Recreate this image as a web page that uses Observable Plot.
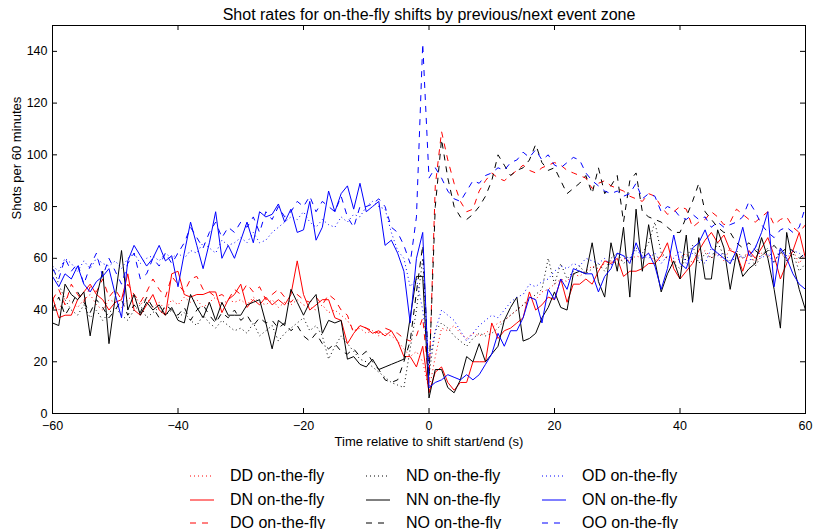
<!DOCTYPE html>
<html><head><meta charset="utf-8">
<script src="https://cdn.jsdelivr.net/npm/d3@7"></script>
<script src="https://cdn.jsdelivr.net/npm/@observablehq/plot@0.6"></script>
<style>
body{margin:0;background:#fff;font-family:"Liberation Sans",Arial,sans-serif;}
#wrap{position:relative;width:814px;height:529px;overflow:hidden;background:#fff}
#chart svg{display:block}
.item{position:absolute;height:21px;width:150px;font-size:16px;color:#000;white-space:nowrap}
.item .sample{position:absolute;left:0;top:0;width:24px;height:21px}
.item .sample svg{display:block}
.item span{position:absolute;left:40px;top:50%;transform:translateY(-50%);line-height:1}
</style></head><body>
<div id="wrap"><div id="chart"></div></div>
<script>
// time (s) relative to shift start/end
const seconds = d3.range(-60, 61);
const xTicks = [-60, -40, -20, 0, 20, 40, 60];
const yTicks = [0, 20, 40, 60, 80, 100, 120, 140];

const DD = [
42,40,45,43,41,44,46,42,40,44,
43,41,44,46,42,45,41,43,40,44,
42,45,43,44,41,43,45,42,44,43,
44,42,45,43,42,44,41,43,42,44,
42,41,40,42,39,40,38,36,32,33,
31,32,30,31,30,28,25,22,24,20,
9,22,33,32,34,31,29,31,30,31,
33,35,36,38,40,42,45,44,47,48,
50,52,51,54,53,55,57,56,58,59,
58,60,59,61,60,62,59,61,60,58,
60,62,58,61,63,60,62,59,64,61,
60,63,58,62,61,59,62,60,63,58,62];
const DN = [
45,37,38,38,44,47,50,46,44,40,
43,44,54,40,38,42,46,40,38,54,
55,46,45,46,46,47,47,39,44,46,
50,41,44,42,45,42,44,42,46,59,
46,40,42,44,44,37,36,27,31,34,
33,31,32,30,32,28,22,22,18,26,
8,16,18,12,9,12,12,20,20,20,
35,29,32,33,35,37,47,40,42,45,
44,52,43,50,50,52,50,55,59,58,
60,53,55,55,56,58,58,61,66,56,
52,55,58,63,67,70,66,69,63,62,
55,63,60,64,68,61,52,58,63,70,60];
const DO = [
44,48,42,50,46,43,49,47,52,45,
48,44,50,46,43,47,52,48,45,53,
50,47,52,53,48,47,45,46,44,48,
46,50,47,49,44,46,48,45,43,46,
44,43,45,42,46,44,40,38,31,34,
33,32,31,33,32,31,29,28,30,37,
12,88,109,98,89,82,78,79,86,90,
93,91,90,92,94,96,94,93,95,96,
97,96,94,93,92,91,87,89,90,88,
87,86,84,83,82,85,84,80,77,78,
80,79,72,74,75,78,76,73,74,79,
77,75,74,76,78,73,75,76,72,70,73];
const ND = [
57,50,44,40,38,42,37,40,36,39,
41,38,36,40,42,37,39,41,38,40,
37,39,36,34,38,35,33,36,34,32,
33,31,35,30,32,34,28,31,33,35,
37,32,34,30,21,26,30,27,24,21,
20,18,16,14,12,11,10,25,40,60,
15,32,35,33,30,28,26,29,31,30,
31,33,36,38,40,42,44,46,48,60,
50,58,52,55,57,54,56,58,55,60,
62,58,60,64,62,66,74,62,60,58,
56,60,65,58,62,60,66,61,58,63,
60,62,57,61,64,58,63,59,62,55,58];
const NN = [
35,34,50,46,44,47,30,45,55,27,
45,63,40,46,38,43,40,42,38,41,
36,35,46,41,37,43,36,43,38,38,
38,42,43,44,35,25,36,34,48,43,
38,43,46,31,36,35,36,21,22,19,
18,21,17,18,19,20,21,37,53,53,
6,17,17,10,8,13,22,20,27,20,
23,26,36,41,45,28,29,31,37,41,
47,41,40,54,55,54,66,51,45,66,
55,72,45,79,55,73,59,47,54,59,
52,69,43,68,52,52,71,64,48,62,
53,56,58,68,60,48,33,70,58,48,40];
const NO = [
40,45,38,42,47,43,39,44,41,37,
40,44,38,42,39,45,41,37,42,40,
38,41,36,40,42,38,35,39,37,40,
36,38,34,37,35,36,33,35,32,34,
30,28,31,27,25,27,24,23,25,22,
24,20,17,13,12,13,20,28,47,65,
14,80,106,91,80,76,75,77,80,84,
90,100,96,92,94,95,98,104,97,94,
95,90,85,87,89,92,85,95,85,88,
92,74,90,93,78,76,75,74,72,70,
70,76,82,89,78,75,72,70,70,66,
64,66,63,61,63,65,62,64,63,60,62];
const OD = [
57,55,60,58,55,59,56,60,58,57,
59,56,60,62,58,60,61,59,62,60,
62,60,63,62,66,64,62,67,65,66,
68,66,70,66,67,70,72,74,76,75,
78,74,72,75,73,72,76,74,77,76,
80,82,80,79,70,63,60,49,52,40,
20,32,40,38,36,32,28,31,34,36,
38,37,40,43,45,46,50,49,51,52,
55,57,56,58,57,60,59,58,60,57,
62,61,60,63,61,60,62,58,61,60,
63,58,62,60,58,64,61,62,59,60,
61,58,65,60,62,58,64,61,63,62,60];
const ON = [
53,49,54,52,57,50,47,51,53,56,
46,37,59,65,61,57,60,65,59,61,
49,62,74,65,56,66,78,60,65,60,
67,74,66,78,76,77,81,74,79,70,
71,82,67,72,86,78,85,88,79,89,
78,80,82,65,67,62,55,35,60,70,
10,12,13,15,14,13,15,13,15,19,
23,31,26,32,32,37,45,44,35,48,
44,52,48,56,55,54,54,47,53,56,
62,61,58,66,60,62,57,48,56,69,
58,56,64,66,71,64,62,60,58,63,
72,61,64,70,78,49,64,60,54,50,48];
const OO = [
56,52,60,55,58,50,57,62,53,60,
55,50,58,62,52,54,60,57,62,58,
62,66,72,68,64,70,74,68,72,70,
74,72,76,70,78,75,80,76,78,82,
80,84,78,82,80,78,84,76,72,80,
80,81,83,80,72,70,65,58,76,143,
91,95,91,86,83,82,86,90,89,92,
93,95,94,97,98,101,99,102,98,100,
96,95,97,99,98,93,90,88,86,85,
86,84,85,89,83,85,84,78,80,79,
76,75,77,75,76,72,74,72,73,74,
76,82,78,73,70,68,71,72,70,72,80];

const seriesNames = ["DD on-the-fly","DN on-the-fly","DO on-the-fly","ND on-the-fly","NN on-the-fly","NO on-the-fly","OD on-the-fly","ON on-the-fly","OO on-the-fly"];
const seriesValues = [DD, DN, DO, ND, NN, NO, OD, ON, OO];

// styles
const colorOf = ["#ff0000","#ff0000","#ff0000","#000000","#000000","#000000","#0000ff","#0000ff","#0000ff"];
const dashOf = ["1,3", undefined, "6,6", "1,3", undefined, "6,6", "1,3", undefined, "6,6"];

const title = "Shot rates for on-the-fly shifts by previous/next event zone";
const xLabel = "Time relative to shift start/end (s)";
const yLabel = "Shots per 60 minutes";

const W = 814, H = 455, mL = 52, mR = 9, mT = 25, mB = 42, tick = 5;
const innerW = W - mL - mR, innerH = H - mT - mB;

const lineMarks = seriesValues.map((vals, k) => Plot.line(
  seconds.map((t, i) => ({t, v: vals[i]})),
  {x: "t", y: "v", stroke: colorOf[k], strokeWidth: 1, strokeDasharray: dashOf[k],
   strokeLinecap: "butt", strokeLinejoin: "miter"}
));

const chart = Plot.plot({
  width: W, height: H, marginLeft: mL, marginRight: mR, marginTop: mT, marginBottom: mB,
  x: {domain: [-60, 60]},
  y: {domain: [0, 150]},
  style: {fontFamily: "'Liberation Sans', Arial, sans-serif", fontSize: "12px", background: "#fff", color: "#000", overflow: "visible"},
  marks: [
    ...lineMarks,
    Plot.frame({stroke: "#000", strokeWidth: 1}),
    Plot.ruleX(xTicks, {x: d => d, insetTop: innerH - tick, stroke: "#000"}),
    Plot.ruleX(xTicks, {x: d => d, insetBottom: innerH - tick, stroke: "#000"}),
    Plot.ruleY(yTicks, {y: d => d, insetRight: innerW - tick, stroke: "#000"}),
    Plot.ruleY(yTicks, {y: d => d, insetLeft: innerW - tick, stroke: "#000"}),
    Plot.axisX(xTicks, {tickSize: 0, tickPadding: 8, label: null, fontSize: 12.5}),
    Plot.axisY(yTicks, {tickSize: 0, tickPadding: 5, label: null, fontSize: 12.5}),
    Plot.text([title], {text: d => d, frameAnchor: "top", dy: -11, fontSize: 16, lineAnchor: "middle"}),
    Plot.text([xLabel], {text: d => d, frameAnchor: "bottom", dy: 28, fontSize: 13, lineAnchor: "middle"}),
    Plot.text([yLabel], {text: d => d, frameAnchor: "left", dx: -36, rotate: -90, fontSize: 13, lineAnchor: "middle"})
  ]
});
document.getElementById("chart").appendChild(chart);

// legend (3 columns, column-major order); samples drawn by Plot
const legendColX = [190, 366, 542];
const legendRowY = [475, 499, 522];
const wrap = document.getElementById("wrap");
seriesNames.forEach((name, k) => {
  const col = Math.floor(k / 3), row = k % 3;
  const item = document.createElement("div");
  item.className = "item";
  item.style.left = legendColX[col] + "px";
  item.style.top = (legendRowY[row] - 10) + "px";
  const holder = document.createElement("div");
  holder.className = "sample";
  holder.appendChild(Plot.plot({
    width: 24, height: 21, margin: 0,
    x: {axis: null, domain: [0, 1]},
    y: {axis: null, domain: [-1, 1]},
    style: {background: "transparent"},
    marks: [Plot.ruleY([0], {stroke: colorOf[k], strokeWidth: 1, strokeDasharray: dashOf[k], strokeLinecap: "butt"})]
  }));
  item.appendChild(holder);
  const span = document.createElement("span");
  span.textContent = name;
  item.appendChild(span);
  wrap.appendChild(item);
});
</script>
</body></html>
